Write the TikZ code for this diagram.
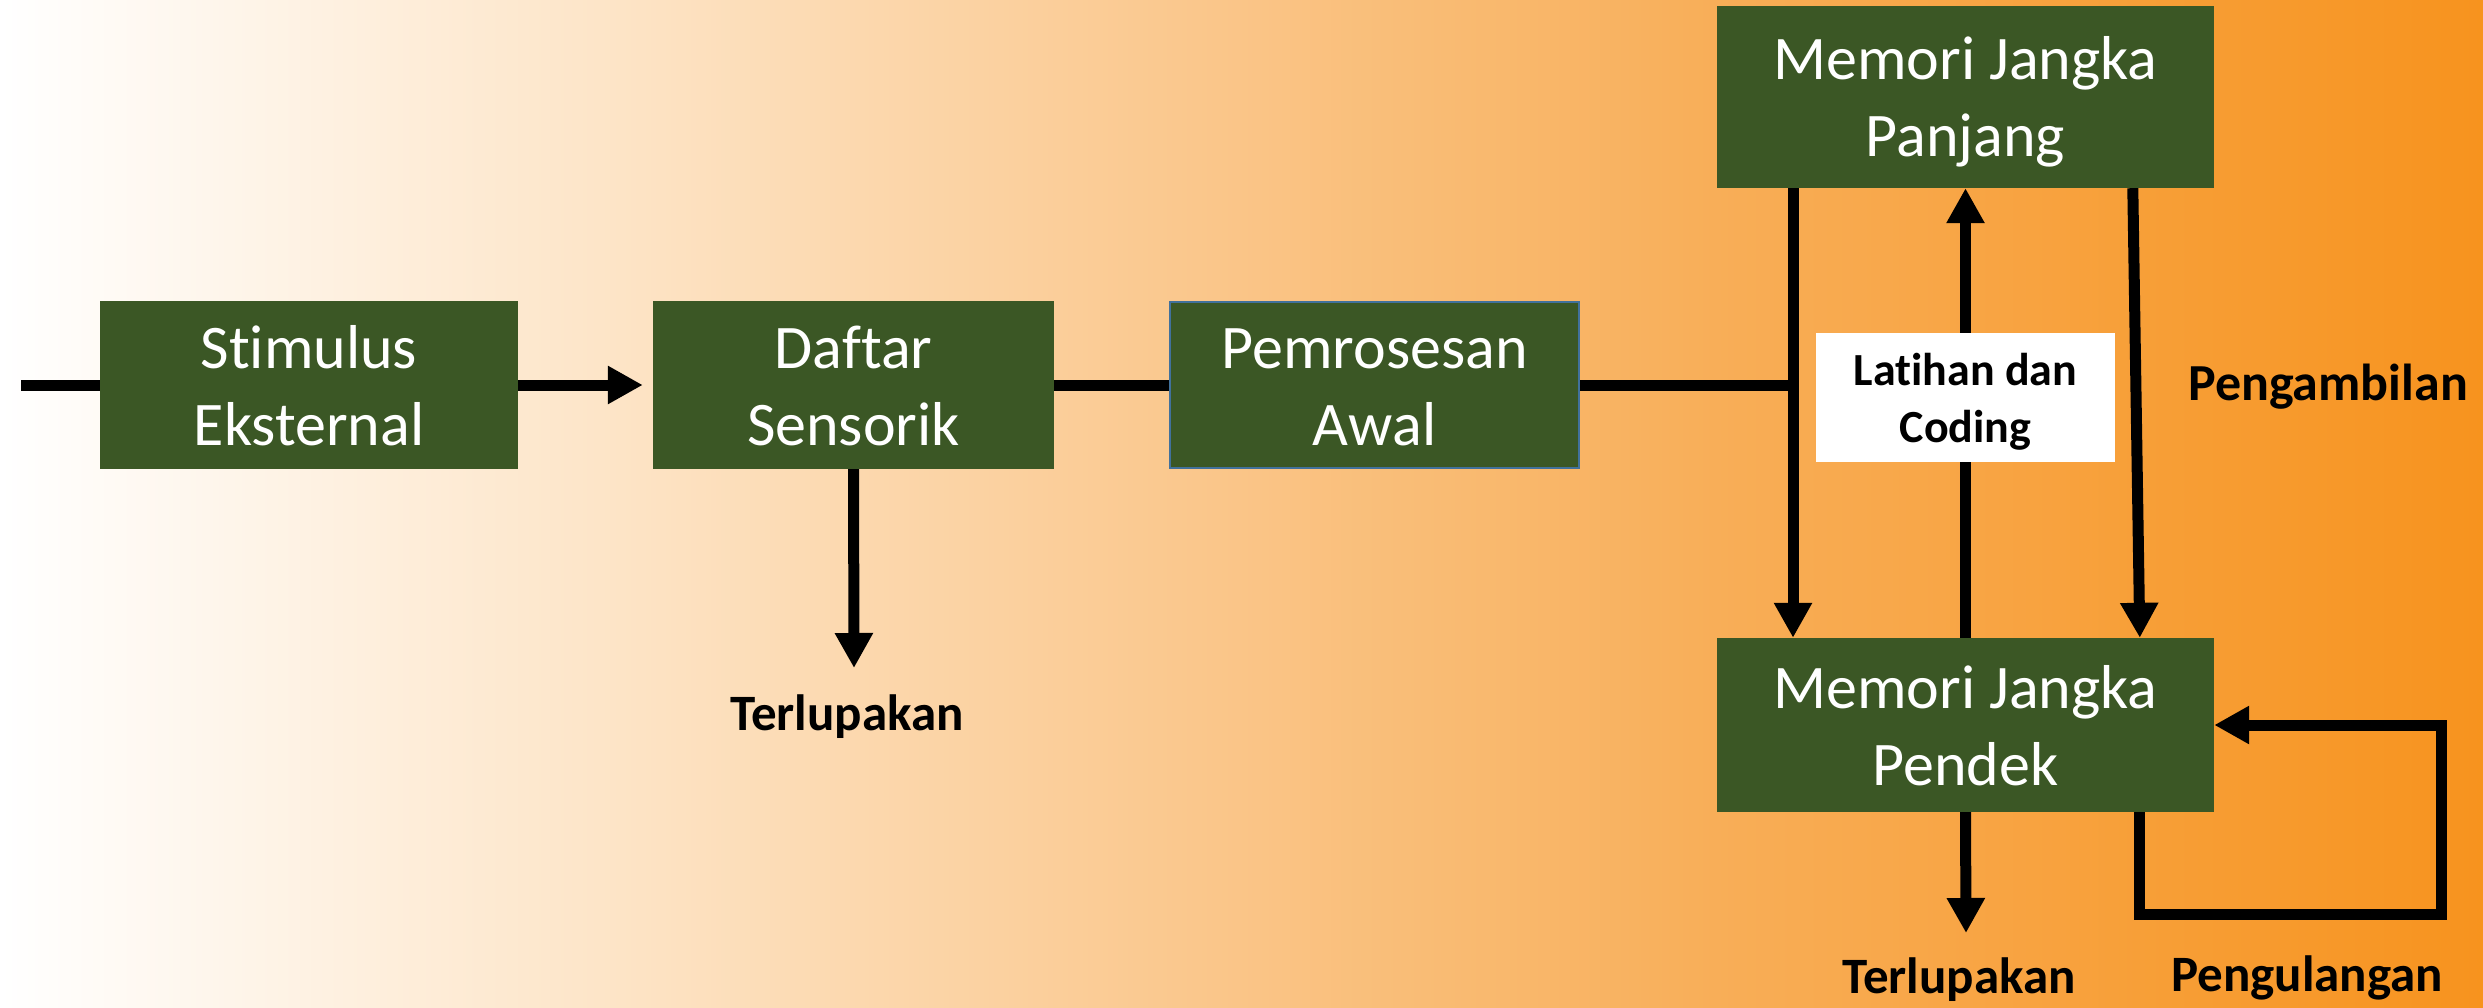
\documentclass[tikz,border=0pt]{standalone}
\usepackage{fontspec}
\setmainfont{Carlito}[Ligatures={NoCommon}]
\usetikzlibrary{arrows.meta,calc}
\definecolor{boxgreen}{RGB}{59,87,37}
\definecolor{pemborder}{RGB}{65,113,156}
\definecolor{bgA}{HTML}{FDE4C6}
\definecolor{bgB}{HTML}{FAC68A}
\definecolor{bgC}{HTML}{F8AE58}
\definecolor{bgD}{HTML}{F7931E}
\pgfdeclarehorizontalshading{bgshade}{100bp}{color(0bp)=(white); color(25bp)=(white); color(37.5bp)=(bgA); color(49.5bp)=(bgB); color(59.5bp)=(bgC); color(75bp)=(bgD); color(100bp)=(bgD)}
\tikzset{
  greenbox/.style={fill=boxgreen, text=white, inner sep=0pt, align=center,
    font=\fontsize{62}{77}\selectfont},
  conn/.style={line width=11pt, line join=miter, draw=black},
  arr/.style={conn, -{Triangle[width=36pt,length=35pt]}},
  lbl/.style={font=\fontsize{51}{60}\selectfont\bfseries, anchor=base, inner sep=0pt},
}
\newcommand{\topstrut}{\rule{0pt}{57pt}}
\newcommand{\botstrut}{\rule[-14pt]{0pt}{14pt}}
\begin{document}
\begin{tikzpicture}[x=1pt,y=-1pt]
\useasboundingbox (0,0) rectangle (2483,1008);
\fill[shading=bgshade] (0,0) rectangle (2483,1008);

\node[greenbox, minimum width=418pt, minimum height=168pt] (stim) at (309,385)
  {\topstrut Stimulus\\Eksternal\botstrut};
\node[greenbox, minimum width=401pt, minimum height=168pt] (daftar) at (853.5,385)
  {\topstrut Daftar\\Sensorik\botstrut};
\node[greenbox, draw=pemborder, line width=2pt, minimum width=409pt, minimum height=166pt] (pem) at (1374.5,385)
  {\topstrut Pemrosesan\\Awal\botstrut};
\node[greenbox, minimum width=497pt, minimum height=182pt] (mjp) at (1965.5,97)
  {\topstrut Memori Jangka\\Panjang\botstrut};
\node[greenbox, minimum width=497pt, minimum height=174pt] (mjpd) at (1965.5,725)
  {\topstrut Memori Jangka\\Pendek\botstrut};

\coordinate (in) at (21,385);
\coordinate (j) at (1793,385);
\coordinate (f1) at (854,668);
\coordinate (f2) at (1966,933);
\coordinate (lc) at (2441,914);

\draw[conn] (in) -- (stim.west);
\draw[arr, shorten >=10pt] (stim.east) -- (daftar.west);
\draw[conn] (daftar.east) -- (pem.west);
\draw[conn] (pem.east) -- (j);
\draw[arr] (mjp.south -| j) -- (mjpd.north -| j);
\draw[arr] (mjpd.north) -- (mjp.south);
\draw[arr] ($(mjp.south west)+(416,0)$) -- ($(mjpd.north west)+(423,0)$);
\draw[arr] (daftar.south) -- (f1);
\draw[arr] (mjpd.south) -- (f2);
\draw[arr] ($(mjpd.south west)+(423,0)$) |- (lc) |- (mjpd.east);

\node[fill=white, inner sep=0pt, minimum width=299pt, minimum height=129pt, align=center,
  font=\fontsize{46}{57}\selectfont\bfseries] (lat) at (1965.5,397.5)
  {\rule{0pt}{43pt}Latihan dan\\Coding\rule[-11pt]{0pt}{11pt}};

\node[lbl] (t1) at (847,730) {Terlupakan};
\node[lbl] (t2) at (1959,993) {Terlupakan};
\node[lbl] (pu) at (2307,991) {Pengulangan};
\node[lbl, font=\fontsize{52}{60}\selectfont\bfseries] (pa) at (2328,400) {Pengambilan};
\end{tikzpicture}
\end{document}
